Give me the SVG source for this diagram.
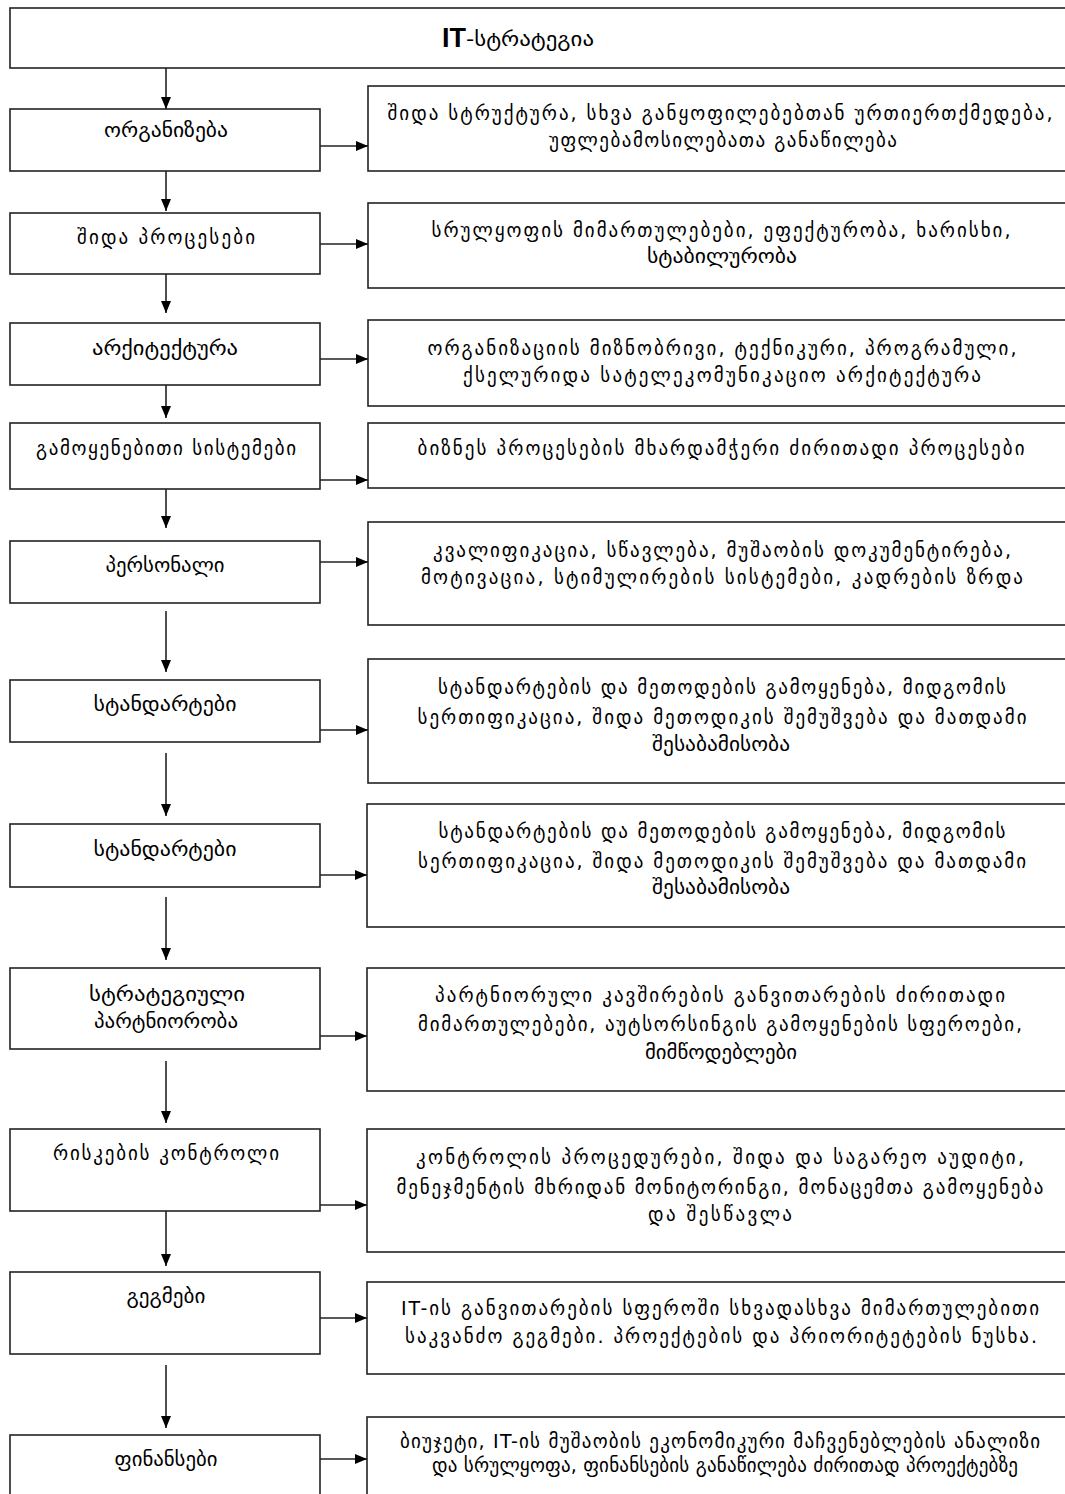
<svg xmlns="http://www.w3.org/2000/svg" width="1065" height="1494" viewBox="0 0 1065 1494">
<style>
.box{fill:#fff;stroke:#222;stroke-width:1.6}
.t{font-family:"DejaVu Sans",sans-serif;font-size:19px;fill:#000;text-anchor:middle}
.c{stroke:#222;stroke-width:1.6;fill:none}
</style>
<defs>
<marker id="ah" markerWidth="12" markerHeight="10" refX="12" refY="5" orient="auto" markerUnits="userSpaceOnUse">
<path d="M0,0 L12,5 L0,10 Z" fill="#000"/>
</marker>
</defs>
<rect width="1065" height="1494" fill="#fff"/>
<g id="title">
<rect class="box" x="10" y="8" width="1070" height="60"/>
<text x="466" y="47" font-family="Liberation Sans, sans-serif" font-weight="bold" font-size="27" text-anchor="end">IT</text>
<text class="t" x="466" y="46" style="text-anchor:start" textLength="128" lengthAdjust="spacingAndGlyphs">-სტრატეგია</text>
</g>
<g id="n1"><rect class="box" x="10" y="109" width="310" height="62"/><text class="t" x="166" y="137" textLength="124" lengthAdjust="spacingAndGlyphs">ორგანიზება</text></g>
<g id="r1"><rect class="box" x="368" y="86" width="710" height="85"/><text class="t" x="720" y="120" textLength="665" lengthAdjust="spacing">შიდა სტრუქტურა, სხვა განყოფილებებთან ურთიერთქმედება,</text><text class="t" x="723" y="147" textLength="348" lengthAdjust="spacing">უფლებამოსილებათა განაწილება</text></g>
<g id="n2"><rect class="box" x="10" y="213" width="310" height="61"/><text class="t" x="166" y="244" textLength="178" lengthAdjust="spacing">შიდა პროცესები</text></g>
<g id="r2"><rect class="box" x="368" y="203" width="710" height="85"/><text class="t" x="721" y="237" textLength="579" lengthAdjust="spacing">სრულყოფის მიმართულებები, ეფექტურობა, ხარისხი,</text><text class="t" x="722" y="263" textLength="150" lengthAdjust="spacingAndGlyphs">სტაბილურობა</text></g>
<g id="n3"><rect class="box" x="10" y="323" width="310" height="62"/><text class="t" x="165" y="355" textLength="146" lengthAdjust="spacingAndGlyphs">არქიტექტურა</text></g>
<g id="r3"><rect class="box" x="368" y="320" width="710" height="86"/><text class="t" x="722" y="355" textLength="589" lengthAdjust="spacing">ორგანიზაციის მიზნობრივი, ტექნიკური, პროგრამული,</text><text class="t" x="722" y="382" textLength="518" lengthAdjust="spacing">ქსელურიდა სატელეკომუნიკაციო არქიტექტურა</text></g>
<g id="n4"><rect class="box" x="10" y="423" width="310" height="66"/><text class="t" x="166" y="455" textLength="260" lengthAdjust="spacing">გამოყენებითი სისტემები</text></g>
<g id="r4"><rect class="box" x="368" y="423" width="710" height="65"/><text class="t" x="721" y="455" textLength="607" lengthAdjust="spacing">ბიზნეს პროცესების მხარდამჭერი ძირითადი პროცესები</text></g>
<g id="n5"><rect class="box" x="10" y="541" width="310" height="62"/><text class="t" x="165" y="572" textLength="119" lengthAdjust="spacingAndGlyphs">პერსონალი</text></g>
<g id="r5"><rect class="box" x="368" y="522" width="710" height="103"/><text class="t" x="722" y="557" textLength="578" lengthAdjust="spacing">კვალიფიკაცია, სწავლება, მუშაობის დოკუმენტირება,</text><text class="t" x="722" y="584" textLength="602" lengthAdjust="spacing">მოტივაცია, სტიმულირების სისტემები, კადრების ზრდა</text></g>
<g id="n6"><rect class="box" x="10" y="680" width="310" height="62"/><text class="t" x="165" y="711" textLength="143" lengthAdjust="spacingAndGlyphs">სტანდარტები</text></g>
<g id="r6"><rect class="box" x="368" y="659" width="710" height="124"/><text class="t" x="722" y="694" textLength="568" lengthAdjust="spacing">სტანდარტების და მეთოდების გამოყენება, მიდგომის</text><text class="t" x="722" y="724" textLength="609" lengthAdjust="spacing">სერთიფიკაცია, შიდა მეთოდიკის შემუშვება და მათდამი</text><text class="t" x="721" y="751" textLength="138" lengthAdjust="spacingAndGlyphs">შესაბამისობა</text></g>
<g id="n7"><rect class="box" x="10" y="824" width="310" height="63"/><text class="t" x="165" y="856" textLength="143" lengthAdjust="spacingAndGlyphs">სტანდარტები</text></g>
<g id="r7"><rect class="box" x="367" y="804" width="710" height="123"/><text class="t" x="722" y="838" textLength="567" lengthAdjust="spacing">სტანდარტების და მეთოდების გამოყენება, მიდგომის</text><text class="t" x="722" y="868" textLength="608" lengthAdjust="spacing">სერთიფიკაცია, შიდა მეთოდიკის შემუშვება და მათდამი</text><text class="t" x="721" y="894" textLength="138" lengthAdjust="spacingAndGlyphs">შესაბამისობა</text></g>
<g id="n8"><rect class="box" x="10" y="968" width="310" height="81"/><text class="t" x="167" y="1001" textLength="156" lengthAdjust="spacingAndGlyphs">სტრატეგიული</text><text class="t" x="166" y="1028" textLength="144" lengthAdjust="spacingAndGlyphs">პარტნიორობა</text></g>
<g id="r8"><rect class="box" x="367" y="968" width="710" height="123"/><text class="t" x="720" y="1002" textLength="570" lengthAdjust="spacing">პარტნიორული კავშირების განვითარების  ძირითადი</text><text class="t" x="720" y="1031" textLength="604" lengthAdjust="spacing">მიმართულებები, აუტსორსინგის გამოყენების სფეროები,</text><text class="t" x="721" y="1059" textLength="152" lengthAdjust="spacingAndGlyphs">მიმწოდებლები</text></g>
<g id="n9"><rect class="box" x="10" y="1129" width="310" height="82"/><text class="t" x="166" y="1160" textLength="226" lengthAdjust="spacing">რისკების კონტროლი</text></g>
<g id="r9"><rect class="box" x="367" y="1129" width="710" height="123"/><text class="t" x="720" y="1164" textLength="608" lengthAdjust="spacing">კონტროლის პროცედურები, შიდა და საგარეო აუდიტი,</text><text class="t" x="720" y="1194" textLength="647" lengthAdjust="spacing">მენეჯმენტის მხრიდან მონიტორინგი, მონაცემთა გამოყენება</text><text class="t" x="720" y="1221" textLength="144" lengthAdjust="spacing">და შესწავლა</text></g>
<g id="n10"><rect class="box" x="10" y="1272" width="310" height="82"/><text class="t" x="166" y="1303" textLength="79" lengthAdjust="spacingAndGlyphs">გეგმები</text></g>
<g id="r10"><rect class="box" x="367" y="1282" width="710" height="92"/><text class="t" x="720" y="1315" textLength="638" lengthAdjust="spacing">IT-ის განვითარების სფეროში სხვადასხვა მიმართულებითი</text><text class="t" x="721" y="1343" textLength="632" lengthAdjust="spacing">საკვანძო გეგმები. პროექტების და პრიორიტეტების ნუსხა.</text></g>
<g id="n11"><rect class="box" x="10" y="1435" width="310" height="80"/><text class="t" x="166" y="1466" textLength="103" lengthAdjust="spacingAndGlyphs">ფინანსები</text></g>
<g id="r11"><rect class="box" x="367" y="1417" width="710" height="100"/><text class="t" x="720" y="1448" textLength="640" lengthAdjust="spacing" font-size="17">ბიუჯეტი, IT-ის მუშაობის ეკონომიკური  მაჩვენებლების  ანალიზი</text><text class="t" x="725" y="1472" textLength="586" lengthAdjust="spacing" font-size="17">და სრულყოფა, ფინანსების განაწილება ძირითად პროექტებზე</text></g>
<g id="connectors" class="c">
<line class="c" x1="166" y1="68" x2="166" y2="109" marker-end="url(#ah)"/>
<line class="c" x1="166" y1="171" x2="166" y2="211" marker-end="url(#ah)"/>
<line class="c" x1="166" y1="274" x2="166" y2="313" marker-end="url(#ah)"/>
<line class="c" x1="166" y1="385" x2="166" y2="418" marker-end="url(#ah)"/>
<line class="c" x1="166" y1="489" x2="166" y2="528" marker-end="url(#ah)"/>
<line class="c" x1="166" y1="611" x2="166" y2="672" marker-end="url(#ah)"/>
<line class="c" x1="166" y1="753" x2="166" y2="816" marker-end="url(#ah)"/>
<line class="c" x1="166" y1="897" x2="166" y2="960" marker-end="url(#ah)"/>
<line class="c" x1="166" y1="1061" x2="166" y2="1123" marker-end="url(#ah)"/>
<line class="c" x1="166" y1="1211" x2="166" y2="1266" marker-end="url(#ah)"/>
<line class="c" x1="166" y1="1365" x2="166" y2="1428" marker-end="url(#ah)"/>
<line class="c" x1="320" y1="146" x2="368" y2="146" marker-end="url(#ah)"/>
<line class="c" x1="320" y1="244" x2="368" y2="244" marker-end="url(#ah)"/>
<line class="c" x1="320" y1="359" x2="368" y2="359" marker-end="url(#ah)"/>
<line class="c" x1="320" y1="480" x2="368" y2="480" marker-end="url(#ah)"/>
<line class="c" x1="320" y1="562" x2="368" y2="562" marker-end="url(#ah)"/>
<line class="c" x1="320" y1="730" x2="368" y2="730" marker-end="url(#ah)"/>
<line class="c" x1="320" y1="875" x2="367" y2="875" marker-end="url(#ah)"/>
<line class="c" x1="320" y1="1036" x2="367" y2="1036" marker-end="url(#ah)"/>
<line class="c" x1="320" y1="1205" x2="367" y2="1205" marker-end="url(#ah)"/>
<line class="c" x1="320" y1="1318" x2="367" y2="1318" marker-end="url(#ah)"/>
<line class="c" x1="320" y1="1459" x2="367" y2="1459" marker-end="url(#ah)"/>
</g>
</svg>
